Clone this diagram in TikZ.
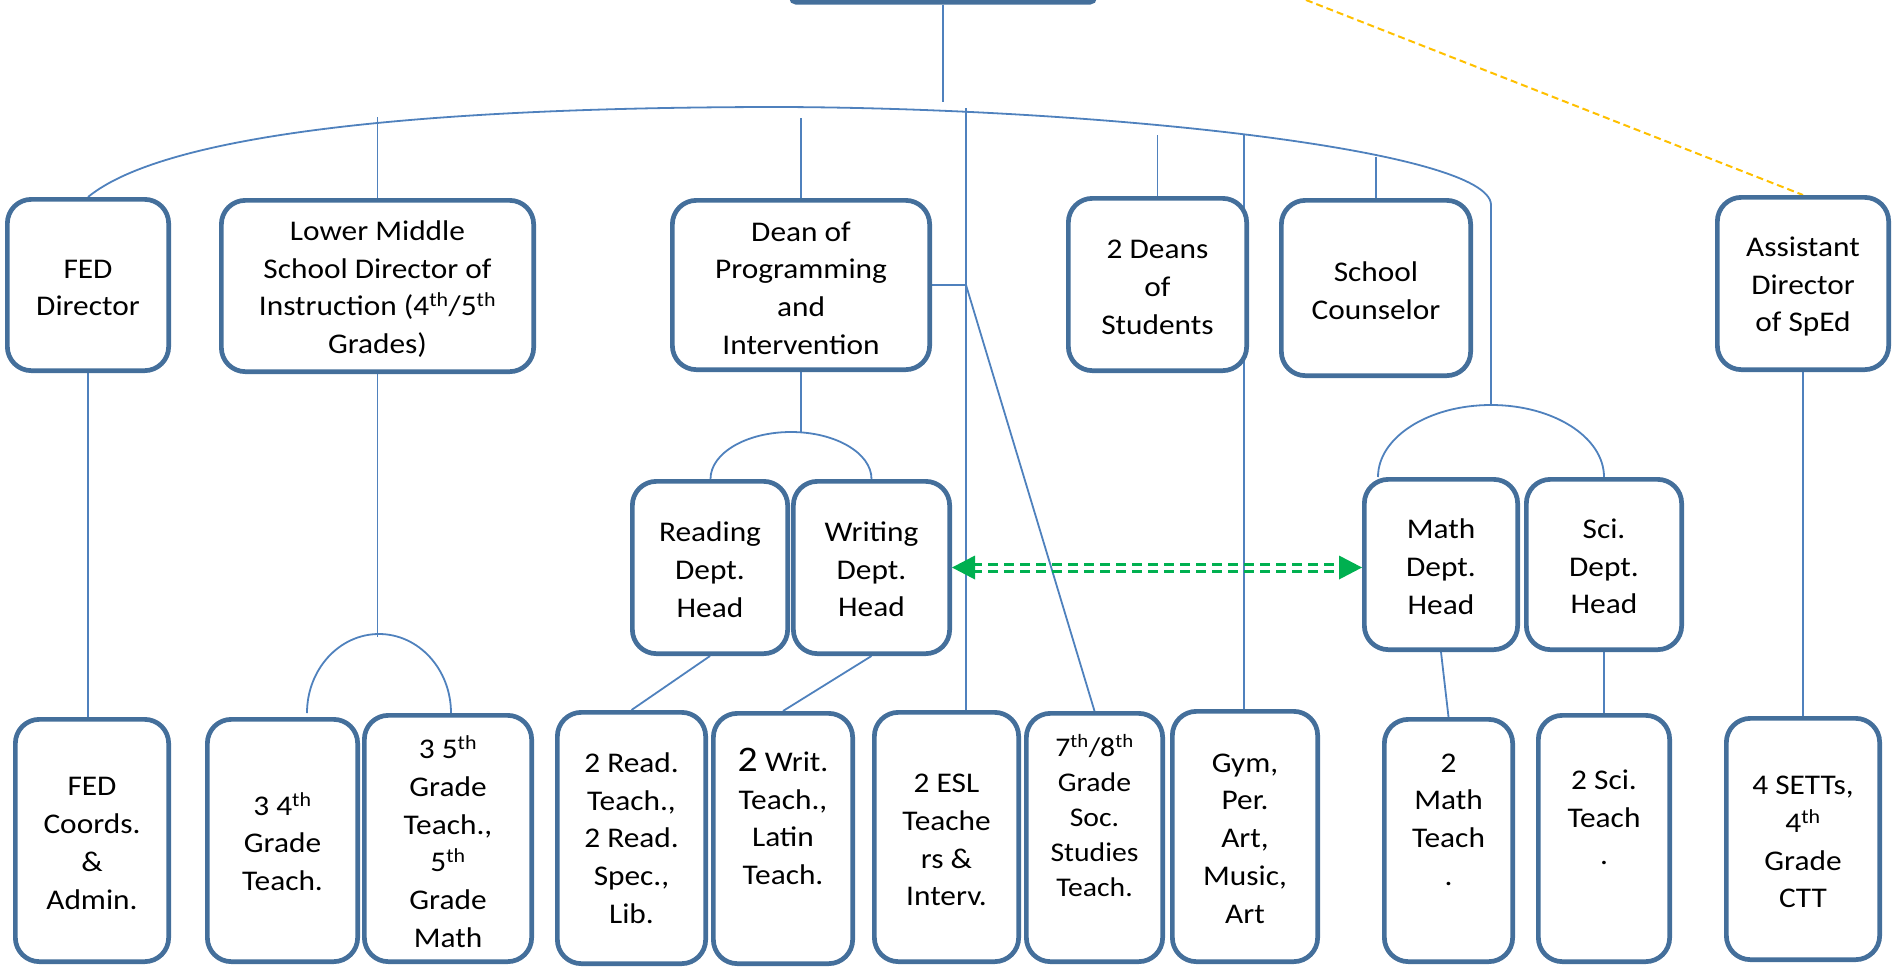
\documentclass[tikz,border=0pt]{standalone}
\usepackage{fontspec}
\setmainfont{Carlito}[FakeStretch=1.1]
\usetikzlibrary{arrows.meta}
\definecolor{boxblue}{RGB}{68,111,155}
\definecolor{lineblue}{RGB}{79,129,189}
\definecolor{arrowgreen}{RGB}{0,176,80}
\definecolor{goldline}{RGB}{255,192,0}
\newcommand{\sups}[1]{\textsuperscript{#1}}
\pgfdeclarelayer{bg}
\pgfsetlayers{bg,main}
% name, x, y, width, height, text drop, text
\newcommand{\bx}[7]{%
  \node[box, minimum width=#4, minimum height=#5] (#1) at (#2,#3) {};
  \node[txt] (#1-t) at ([yshift=-#6]#1.center) {#7};}
\begin{document}
\begin{tikzpicture}[x=1pt,y=-1pt,
  box/.style={draw=boxblue, line width=4.7pt, rounded corners=24pt, fill=white, inner sep=0pt},
  txt/.style={align=center, inner sep=0pt, font=\fontsize{28.5}{37.7}\selectfont},
  conn/.style={draw=lineblue, line width=1.8pt},
  gdash/.style={draw=arrowgreen, line width=3pt, dash pattern=on 10pt off 6pt},
  ydash/.style={draw=goldline, line width=2pt, dash pattern=on 7pt off 4pt}]
\useasboundingbox (0,0) rectangle (1895,967);
\clip (0,0) rectangle (1895,967);

% ---------- boxes ----------
\node[box, rounded corners=5pt, minimum width=303.3pt, minimum height=170pt] (topb) at (943,-82.65) {};

\bx{fedd}{88}{285}{161.3pt}{171.3pt}{3pt}{FED\\Director}
\bx{lms}{377.5}{286}{312.3pt}{171.3pt}{3pt}{Lower Middle\\School Director of\\Instruction (4\sups{th}/5\sups{th}\\Grades)}
\bx{dean}{801}{285}{257.3pt}{169.3pt}{3pt}{Dean of\\Programming\\and\\Intervention}
\bx{deans2}{1157.5}{284.5}{178.3pt}{172.3pt}{3pt}{2 Deans\\of\\Students}
\bx{couns}{1376}{288}{189.3pt}{175.3pt}{3pt}{School\\Counselor}
\bx{sped}{1803}{283.5}{171.3pt}{172.3pt}{3pt}{Assistant\\Director\\of SpEd}

\bx{read}{710}{567.5}{155.3pt}{172.3pt}{2pt}{Reading\\Dept.\\Head}
\bx{writ}{871.5}{567.5}{156.3pt}{172.3pt}{2pt}{Writing\\Dept.\\Head}
\bx{math}{1441}{564.5}{153.3pt}{170.3pt}{2pt}{Math\\Dept.\\Head}
\bx{sci}{1604}{564.5}{155.3pt}{170.3pt}{2pt}{Sci.\\Dept.\\Head}

\bx{fedc}{92}{840.5}{153.3pt}{242.3pt}{3pt}{FED\\Coords.\\\&\\Admin.}
\bx{g4}{282.5}{840.5}{150.3pt}{242.3pt}{1pt}{3 4\sups{th}\\Grade\\Teach.}
\bx{g5}{448}{838.5}{167.3pt}{246.3pt}{3pt}{3 5\sups{th}\\Grade\\Teach.,\\5\sups{th}\\Grade\\Math}
\bx{rdt}{631.5}{838}{148.3pt}{251.3pt}{0pt}{2 Read.\\Teach.,\\2 Read.\\Spec.,\\Lib.}
\bx{wrt}{783}{838.5}{139.3pt}{250.3pt}{-22pt}{{\fontsize{36}{37.7}\selectfont 2} Writ.\\Teach.,\\Latin\\Teach.}
\bx{esl}{946.5}{837}{144.3pt}{249.3pt}{3pt}{2 ESL\\Teache\\rs \&\\Interv.}
\node[box, minimum width=136.3pt, minimum height=248.3pt] (soc) at (1094.5,837.5) {};
\node[txt, font=\fontsize{27}{35}\selectfont] (soc-t) at ([yshift=22pt]soc.center) {7\sups{th}/8\sups{th}\\Grade\\Soc.\\Studies\\Teach.};
\bx{gym}{1245}{836.5}{145.3pt}{250.3pt}{2pt}{Gym,\\Per.\\Art,\\Music,\\Art}
\bx{m2}{1448.5}{840.5}{128.3pt}{242.3pt}{-21pt}{2\\Math\\Teach\\.}
\bx{s2}{1604}{838.5}{131.3pt}{246.3pt}{-21pt}{2 Sci.\\Teach\\.}
\bx{sett}{1803}{839}{153.3pt}{241.3pt}{3pt}{4 SETTs,\\4\sups{th}\\Grade\\CTT}

% ---------- free connector ends ----------
\coordinate (toplow) at (943,102);
\coordinate (lmstop) at (377.5,117);
\coordinate (deantop) at (801,118);
\coordinate (vtop) at (966,108);
\coordinate (d2top) at (1157.5,135);
\coordinate (gymtop) at (1244,135);
\coordinate (countop) at (1376,157);
\coordinate (arcend) at (1491,205);
\coordinate (mspeak) at (1491,405);
\coordinate (ytop) at (1306,0);

% ---------- connectors (behind boxes) ----------
\begin{pgfonlayer}{bg}
\draw[conn] (topb.south) -- (toplow);
\draw[conn] (fedd.north) .. controls (170,130) and (450,107) .. (780,107)
  .. controls (1100,108) and (1491,150) .. (arcend) -- (mspeak);
\draw[conn] (lmstop) -- (lms.north);
\draw[conn] (deantop) -- (dean.north);
\draw[conn] (vtop) -- (vtop |- esl.north);
\draw[conn, line width=2.6pt] (dean.east) -- (dean.east -| vtop);
\draw[conn] (dean.east -| vtop) -- (soc.north);
\draw[conn] (d2top) -- (deans2.north);
\draw[conn] (gymtop) -- (gymtop |- gym.north);
\draw[conn] (countop) -- (couns.north);
\draw[conn] (sci.north) arc[start angle=0, end angle=-180, x radius=113, y radius=72];
\draw[conn] (writ.north) arc[start angle=0, end angle=-180, x radius=80.5, y radius=47];
\draw[conn] (dean.south) -- ++(0,60);
\draw[conn] ([xshift=3pt]g5.north) arc[start angle=0, end angle=-180, x radius=72, y radius=79];
\draw[conn] (lms.south) -- ++(0,263);
\draw[conn] (fedd.south) -- (fedd.south |- fedc.north);
\draw[conn] (read.south) -- (rdt.north);
\draw[conn] (writ.south) -- (wrt.north);
\draw[conn] (math.south) -- (m2.north);
\draw[conn] (sci.south) -- (s2.north);
\draw[conn] (sped.south) -- (sett.north);
\draw[ydash] (ytop) -- (sped.north);
\end{pgfonlayer}

% ---------- green double dashed arrow ----------
\coordinate (gl) at (writ.east);
\coordinate (gr) at (math.west |- writ.east);
\draw[gdash] ([xshift=20pt,yshift=3.5pt]gl) -- ([xshift=-20pt,yshift=3.5pt]gr);
\draw[gdash] ([xshift=20pt,yshift=-3.5pt]gl) -- ([xshift=-20pt,yshift=-3.5pt]gr);
\fill[arrowgreen] (gl) -- ++(23,-12) -- ++(0,24) -- cycle;
\fill[arrowgreen] (gr) -- ++(-23,-12) -- ++(0,24) -- cycle;
\end{tikzpicture}
\end{document}
